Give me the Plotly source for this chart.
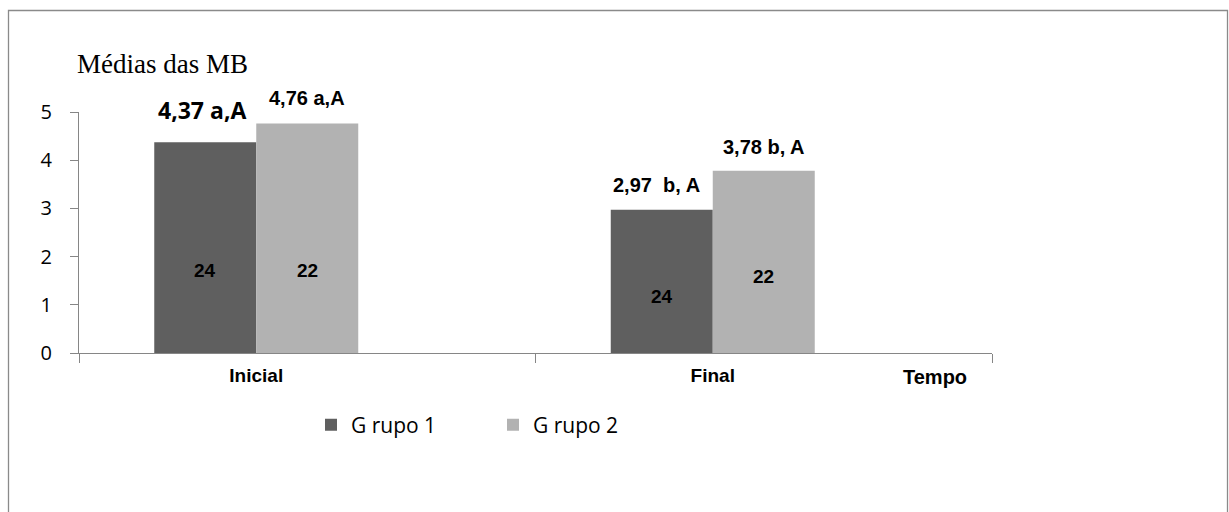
import plotly.graph_objects as go

# ---- data ----
categories = ["Inicial", "Final"]
series_names = ["G rupo 1", "G rupo 2"]
grupo1 = [4.37, 2.97]
grupo2 = [4.76, 3.78]
top_labels_g1 = ["4,37 a,A", "2,97  b, A"]
top_labels_g2 = ["4,76 a,A", "3,78 b, A"]
n_g1 = ["24", "24"]
n_g2 = ["22", "22"]
n_label_y_g1 = [1.72, 1.18]
n_label_y_g2 = [1.72, 1.58]
y_ticks = [0, 1, 2, 3, 4, 5]

# ---- layout geometry ----
W, H = 1229, 512
L, R, T, B = 79, 237, 112, 159
pw, ph = W - L - R, H - T - B

def px(x):
    return (x - L) / pw

def py(y):
    return (H - B - y) / ph

bar_w = 102 / (pw / 2)
offs = [-1.5 * bar_w, -0.5 * bar_w]
colors = ["#5f5f5f", "#b2b2b2"]
axis_col = "#868686"
arial = "Liberation Sans, Arial"
calib = "Open Sans, Lato, sans-serif"

fig = go.Figure()
for vals, name, col, off in zip([grupo1, grupo2], series_names, colors, offs):
    fig.add_trace(go.Bar(x=categories, y=vals, name=name, marker_color=col,
                         marker_line_width=0, width=bar_w, offset=off))

ann = []
top_fonts_g1 = [dict(family=calib, size=23, color="black"),
                dict(family=arial, size=20, color="black")]
top_yshift_g1 = [32, 25]
top_xshift_g1 = [-3, -5]
top_yshift_g2 = [26, 24]
for i, c in enumerate(categories):
    ann.append(dict(x=i + offs[0] + bar_w / 2, y=grupo1[i], xref="x", yref="y",
                    text="<b>%s</b>" % top_labels_g1[i], showarrow=False,
                    yanchor="middle", xanchor="center", yshift=top_yshift_g1[i],
                    xshift=top_xshift_g1[i], font=top_fonts_g1[i]))
    ann.append(dict(x=i + offs[1] + bar_w / 2, y=grupo2[i], xref="x", yref="y",
                    text="<b>%s</b>" % top_labels_g2[i], showarrow=False,
                    yanchor="middle", xanchor="center", yshift=top_yshift_g2[i],
                    font=dict(family=arial, size=20, color="black")))
    ann.append(dict(x=i + offs[0] + bar_w / 2, y=n_label_y_g1[i], xref="x", yref="y",
                    text="<b>%s</b>" % n_g1[i], showarrow=False, yanchor="middle",
                    font=dict(family=arial, size=19, color="black")))
    ann.append(dict(x=i + offs[1] + bar_w / 2, y=n_label_y_g2[i], xref="x", yref="y",
                    text="<b>%s</b>" % n_g2[i], showarrow=False, yanchor="middle",
                    font=dict(family=arial, size=19, color="black")))

ann.append(dict(x=px(75), y=py(64), xref="paper", yref="paper", text="Médias das MB",
                showarrow=False, xanchor="left", yanchor="middle",
                font=dict(family="Liberation Serif, Times New Roman", size=27, color="black")))
ann.append(dict(x=px(935), y=py(377), xref="paper", yref="paper", text="<b>Tempo</b>",
                showarrow=False, xanchor="center", yanchor="middle",
                font=dict(family=arial, size=20, color="black")))

fig.update_layout(
    width=W, height=H,
    margin=dict(l=L, r=R, t=T, b=B, pad=0),
    plot_bgcolor="white", paper_bgcolor="white",
    barmode="overlay",
    showlegend=True,
    legend=dict(orientation="h", x=px(311), y=py(425), xanchor="left", yanchor="middle",
                font=dict(family=calib, size=21, color="black"),
                entrywidth=137, entrywidthmode="pixels", bgcolor="rgba(0,0,0,0)"),
    annotations=ann,
    shapes=[dict(type="rect", xref="paper", yref="paper",
                 x0=px(8.5), x1=px(1227.5), y0=py(10.5), y1=py(520),
                 line=dict(color="#8a8a8a", width=1.3), fillcolor="rgba(0,0,0,0)")],
)
fig.update_xaxes(type="category", showline=True, linecolor=axis_col, linewidth=1.3,
                 ticks="outside", tickson="boundaries", ticklen=9, tickcolor=axis_col,
                 tickwidth=1.3, showgrid=False, zeroline=False,
                 ticklabelshift=-51, ticklabelstandoff=5,
                 tickfont=dict(family=arial, size=19, color="black"),
                 tickprefix="<b>", ticksuffix="</b>")
fig.update_yaxes(range=[0, 5], tickvals=y_ticks, showline=True, linecolor=axis_col,
                 linewidth=1.3, ticks="outside", ticklen=8, tickcolor=axis_col,
                 tickwidth=1.3, showgrid=False, zeroline=False, ticklabelstandoff=14,
                 tickfont=dict(family=calib, size=20, color="black"))

fig.write_html("out.html")
